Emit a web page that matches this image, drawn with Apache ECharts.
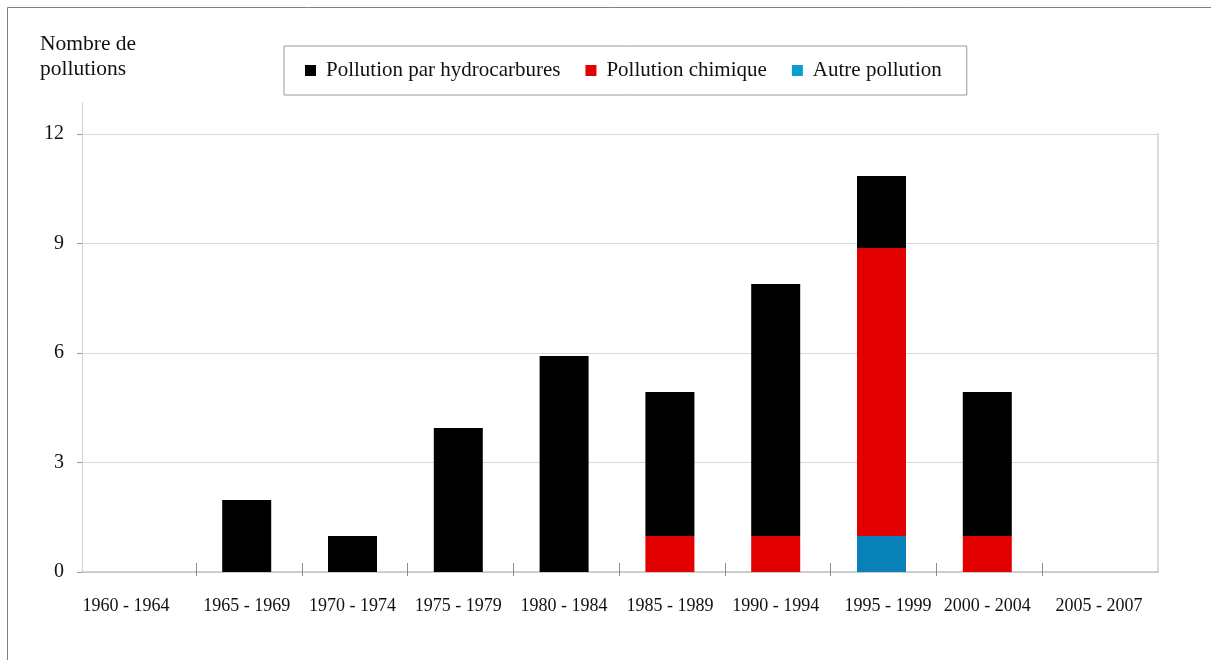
<!DOCTYPE html>
<html>
<head>
<meta charset="utf-8">
<script src="https://cdn.jsdelivr.net/npm/echarts@6/dist/echarts.min.js"></script>
<style>
  html, body { margin: 0; padding: 0; background: #fff; }
  #chart { width: 1211px; height: 660px; }
</style>
</head>
<body>
<div id="chart"></div>
<script>
// ---- data ----
const categories = ['1960 - 1964', '1965 - 1969', '1970 - 1974', '1975 - 1979', '1980 - 1984',
                    '1985 - 1989', '1990 - 1994', '1995 - 1999', '2000 - 2004', '2005 - 2007'];
const hydrocarbures = [0, 2, 1, 4, 6, 4, 7, 2, 4, 0];
const chimique      = [0, 0, 0, 0, 0, 1, 1, 8, 1, 0];
const autre         = [0, 0, 0, 0, 0, 0, 0, 1, 0, 0];
const seriesNames = ['Pollution par hydrocarbures', 'Pollution chimique', 'Autre pollution'];
const yMin = 0, yMax = 12, yStep = 3;
const yTitle = 'Nombre de\npollutions';

const FONT = '"Liberation Serif", "Times New Roman", serif';
const chart = echarts.init(document.getElementById('chart'), null, { renderer: 'canvas' });

// small label nudges seen in the reference (label padding, in px)
const labelPad = { '1960 - 1964': [0, 30, 0, 0], '1995 - 1999': [0, 0, 0, 13], '2005 - 2007': [0, 0, 0, 12] };
const categoryData = categories.map(c => labelPad[c] ? { value: c, textStyle: { padding: labelPad[c] } } : c);

const option = {
  backgroundColor: '#ffffff',
  animation: false,
  graphic: [{
    type: 'rect', silent: true,
    shape: { x: 7.5, y: 7.5, width: 1300, height: 700 },
    style: { fill: 'none', stroke: '#808080', lineWidth: 1 }
  }],
  title: {
    text: yTitle, left: 40, top: 32, padding: 0,
    textStyle: { fontFamily: FONT, fontSize: 21.5, fontWeight: 'normal', color: '#111', lineHeight: 25 }
  },
  legend: {
    left: 284, top: 46,
    padding: [14, 25, 14, 21],
    borderColor: '#999', borderWidth: 1,
    itemWidth: 11, itemHeight: 11, itemGap: 25,
    icon: 'rect',
    data: [
      { name: seriesNames[0] },
      { name: seriesNames[1] },
      { name: seriesNames[2], itemStyle: { color: '#0a9ed0' } }
    ],
    textStyle: { fontFamily: FONT, fontSize: 21, color: '#111', padding: [0, 0, 0, 5] }
  },
  grid: [
    { left: 82, right: 53, top: 103, bottom: 88 },  // y-axis line
    { left: 82, right: 53, top: 134, bottom: 88 },  // gridlines, labels, borders
    { left: 88, right: 65, top: 140, bottom: 88 },  // bars
    { left: 196, right: 169, top: 134, bottom: 84 } // category separators
  ],
  xAxis: [
    { gridIndex: 0, type: 'value', show: false, min: 0, max: 1 },
    { gridIndex: 1, type: 'value', min: 0, max: 1,
      axisLine: { show: true, lineStyle: { color: '#c4c4c4', width: 1.5 } },
      axisTick: { show: false }, axisLabel: { show: false }, splitLine: { show: false } },
    { gridIndex: 2, type: 'category', data: categoryData,
      axisLine: { show: false }, axisTick: { show: false },
      axisLabel: { interval: 0, margin: 25, fontFamily: FONT, fontSize: 18, color: '#111' } },
    { gridIndex: 3, type: 'category', data: categories.slice(1), boundaryGap: false,
      axisLine: { show: false }, axisLabel: { show: false },
      axisTick: { show: true, interval: 0, inside: true, length: 13, lineStyle: { color: '#8c8c8c', width: 1 } } }
  ],
  yAxis: [
    { gridIndex: 0, type: 'value', min: 0, max: 1,
      axisLine: { show: true, lineStyle: { color: '#d0d0d0', width: 1 } },
      axisTick: { show: false }, axisLabel: { show: false }, splitLine: { show: false } },
    { gridIndex: 1, type: 'value', min: yMin, max: yMax, interval: yStep,
      axisLine: { show: false },
      axisTick: { show: true, length: 5, lineStyle: { color: '#999' } },
      axisLabel: { margin: 18, fontFamily: FONT, fontSize: 20, color: '#111' },
      splitLine: { show: true, lineStyle: { color: '#d9d9d9', width: 1 } } },
    { gridIndex: 1, type: 'value', position: 'right', min: yMin, max: yMax,
      axisLine: { show: true, lineStyle: { color: '#d9d9d9', width: 2 } },
      axisTick: { show: false }, axisLabel: { show: false }, splitLine: { show: false } },
    { gridIndex: 2, type: 'value', min: yMin, max: yMax, show: false },
    { gridIndex: 3, type: 'value', min: 0, max: 1, show: false }
  ],
  series: [
    { name: seriesNames[2], type: 'bar', stack: 'total', xAxisIndex: 2, yAxisIndex: 3,
      barWidth: 49, data: autre, itemStyle: { color: '#0880b8' } },
    { name: seriesNames[1], type: 'bar', stack: 'total', xAxisIndex: 2, yAxisIndex: 3,
      barWidth: 49, data: chimique, itemStyle: { color: '#e30000' } },
    { name: seriesNames[0], type: 'bar', stack: 'total', xAxisIndex: 2, yAxisIndex: 3,
      barWidth: 49, data: hydrocarbures, itemStyle: { color: '#000000' } }
  ]
};
chart.setOption(option);
</script>
</body>
</html>
